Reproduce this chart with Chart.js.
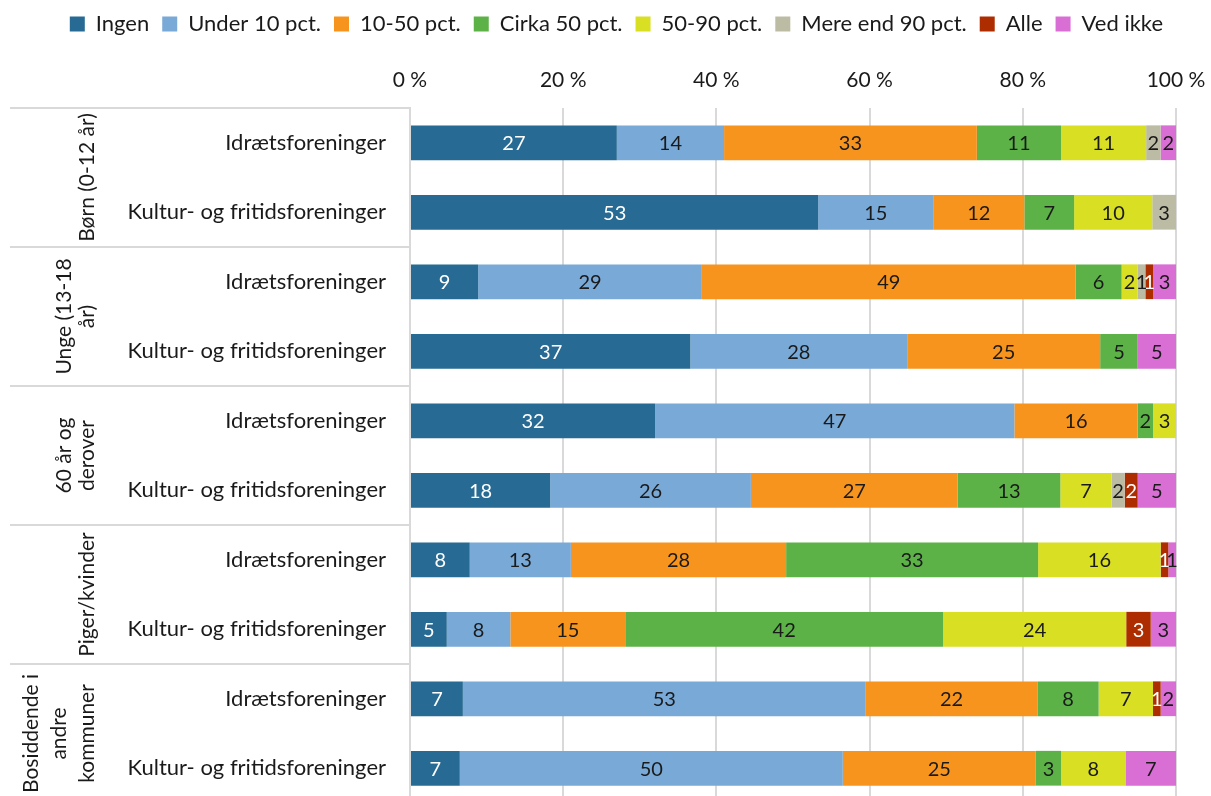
<!DOCTYPE html>
<html><head><meta charset="utf-8">
<script src="https://cdn.jsdelivr.net/npm/chart.js@4/dist/chart.umd.min.js"></script>
<style>html,body{margin:0;padding:0;background:#fff;overflow:hidden}#wrap{width:1211px;height:803px}</style>
</head><body><div id="wrap"><canvas id="c" width="1211" height="803"></canvas></div>
<script>
const categories = ["Idrætsforeninger","Kultur- og fritidsforeninger","Idrætsforeninger","Kultur- og fritidsforeninger","Idrætsforeninger","Kultur- og fritidsforeninger","Idrætsforeninger","Kultur- og fritidsforeninger","Idrætsforeninger","Kultur- og fritidsforeninger"];
const groupLabels = [["Børn (0-12 år)"],["Unge (13-18","år)"],["60 år og","derover"],["Piger/kvinder"],["Bosiddende i","andre","kommuner"]];
const seriesNames = ["Ingen","Under 10 pct.","10-50 pct.","Cirka 50 pct.","50-90 pct.","Mere end 90 pct.","Alle","Ved ikke"];
const ingen   = [27, 53.3, 8.9, 36.6, 32, 18.3, 7.8, 4.8, 6.9, 6.5];
const under10 = [14, 15, 29.2, 28.3, 46.9, 26.2, 13.2, 8.3, 52.6, 50];
const p10_50  = [33, 11.9, 48.8, 25.2, 16.1, 27, 28.1, 15, 22.4, 25.2];
const cirka50 = [11, 6.5, 6, 4.9, 2, 13.4, 32.9, 41.5, 8, 3.3];
const p50_90  = [11.1, 10.2, 2.1, 0, 3, 6.7, 16, 23.9, 7.1, 8.4];
const mere90  = [1.9, 3.1, 1, 0, 0, 1.7, 0, 0, 0, 0];
const alle    = [0, 0, 1, 0, 0, 1.7, 1, 3.2, 1, 0];
const vedIkke = [2, 0, 3, 5, 0, 5, 1, 3.3, 2, 6.6];
const xTicks = [0,20,40,60,80,100];

const colors = ["#276a93","#78a9d7","#f7941e","#5cb247","#d9df22","#bcbca4","#ae2d00","#d96fd5"];
const labelColors = ["#ffffff","#1a1a1a","#1a1a1a","#1a1a1a","#1a1a1a","#1a1a1a","#ffffff","#1a1a1a"];
const allSeries = [ingen,under10,p10_50,cirka50,p50_90,mere90,alle,vedIkke];
const FONT = "Lato";
const PLOT_TOP = 108;

const dataLabels = {
  id:'dataLabels',
  afterDatasetsDraw(chart){
    const ctx = chart.ctx;
    ctx.save();
    ctx.font = "20px " + FONT;
    ctx.textAlign = 'center';
    ctx.textBaseline = 'middle';
    chart.data.datasets.forEach((ds, di) => {
      const meta = chart.getDatasetMeta(di);
      meta.data.forEach((bar, i) => {
        const v = ds.data[i];
        if (!v) return;
        const cx = (bar.x + bar.base) / 2;
        ctx.fillStyle = labelColors[di];
        ctx.fillText(String(Math.round(v)), cx, bar.y + 1);
      });
    });
    ctx.restore();
  }
};

const groupPlugin = {
  id:'groupPlugin',
  afterDraw(chart){
    const ctx = chart.ctx;
    const y = chart.scales.y;
    const left = chart.chartArea.left;
    const half = (y.getPixelForValue(1) - y.getPixelForValue(0)) / 2;
    ctx.save();
    ctx.strokeStyle = '#d9d9d9';
    ctx.lineWidth = 2;
    for (let g = 0; g <= groupLabels.length; g++) {
      const yy = Math.round(y.getPixelForValue(g*2) - half);
      ctx.beginPath(); ctx.moveTo(10, yy); ctx.lineTo(left, yy); ctx.stroke();
    }
    ctx.font = "21px " + FONT;
    ctx.fillStyle = '#1a1a1a';
    ctx.textAlign = 'center';
    ctx.textBaseline = 'middle';
    groupLabels.forEach((lines, g) => {
      const cy = (y.getPixelForValue(g*2) + y.getPixelForValue(g*2+1)) / 2;
      const n = lines.length;
      const sp = n === 3 ? 28 : 23;
      lines.forEach((t, i) => {
        const cx = 87 + (i - (n - 1)) * sp;
        ctx.save();
        ctx.translate(cx, cy);
        ctx.rotate(-Math.PI/2);
        ctx.fillText(t, 0, 0);
        ctx.restore();
      });
    });
    ctx.restore();
  }
};

new Chart(document.getElementById('c'), {
  type:'bar',
  data:{
    labels: categories,
    datasets: seriesNames.map((n, i) => ({
      label: n, data: allSeries[i], backgroundColor: colors[i], borderWidth: 0,
      barPercentage: 0.5, categoryPercentage: 1.0
    }))
  },
  options:{
    indexAxis:'y',
    responsive:false,
    animation:false,
    devicePixelRatio:1,
    layout:{padding:{left:0,right:35,top:0,bottom:0}},
    plugins:{
      legend:{
        position:'top',
        align:'end',
        labels:{font:{family:FONT,size:22},color:'#1a1a1a',boxWidth:15,boxHeight:15,padding:13}
      },
      tooltip:{enabled:false}
    },
    scales:{
      x:{
        position:'top', stacked:true, min:0, max:100,
        afterBuildTicks(s){ s.ticks = xTicks.map(v => ({value:v})); },
        ticks:{font:{family:FONT,size:21},color:'#1a1a1a',padding:15,callback:v => v + ' %'},
        grid:{color:'#d9d9d9',lineWidth:2,drawTicks:false},
        border:{display:false},
        afterFit(s){
          const lg = s.chart.legend;
          s.height = PLOT_TOP - (lg && lg.height ? lg.height : 44);
          s.paddingLeft = 0; s.paddingRight = 0;
        }
      },
      y:{
        stacked:true,
        ticks:{font:{family:FONT,size:22},color:'#1a1a1a',padding:24},
        grid:{display:false,drawTicks:false},
        border:{display:true,color:'#d9d9d9',width:2},
        afterFit(s){ s.width = 410; s.paddingTop = 0; s.paddingBottom = 0; }
      }
    }
  },
  plugins:[dataLabels, groupPlugin]
});
</script>
</body></html>
